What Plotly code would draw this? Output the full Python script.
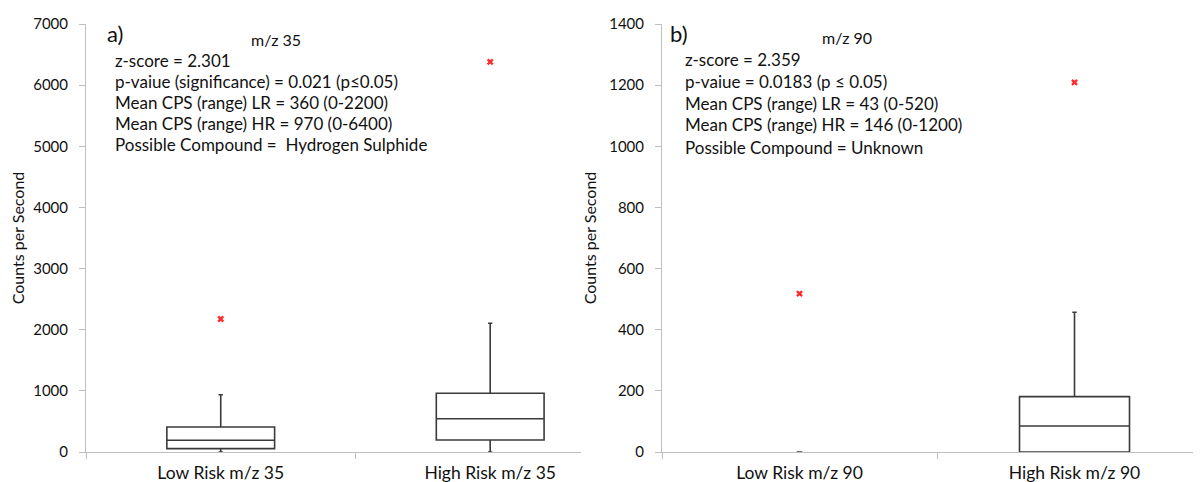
import plotly.graph_objects as go

# ---- data ----
categories_a = ["Low Risk m/z 35", "High Risk m/z 35"]
q1_a = [55, 196]
median_a = [191, 545]
q3_a = [410, 960]
lowerfence_a = [0, 0]
upperfence_a = [937, 2105]
outliers_a = [2175, 6380]

categories_b = ["Low Risk m/z 90", "High Risk m/z 90"]
q1_b = [0, 0]
median_b = [0, 85]
q3_b = [0, 181]
lowerfence_b = [0, 0]
upperfence_b = [0, 457]
outliers_b = [518, 1209]

text_a = ["z-score = 2.301",
          "p-vaiue (significance) = 0.021 (p≤0.05)",
          "Mean CPS (range) LR = 360 (0-2200)",
          "Mean CPS (range) HR = 970 (0-6400)",
          "Possible Compound =  Hydrogen Sulphide"]
text_b = ["z-score = 2.359",
          "p-vaiue = 0.0183 (p ≤ 0.05)",
          "Mean CPS (range) LR = 43 (0-520)",
          "Mean CPS (range) HR = 146 (0-1200)",
          "Possible Compound = Unknown"]

# page body has an 8px margin; size the figure to fit the window
OFF = 8
W, H = 1201 - OFF, 482 - OFF
FONT = "Lato"
BOX_LINE = "#3a3a3a"
AXIS = "#bfbfbf"
RED = "#ff2a2a"
TXT = "#111111"

fig = go.Figure()

def add_box(cat, q1, med, q3, lo, hi, xa, ya, width):
    fig.add_trace(go.Box(
        x=[cat], q1=[q1], median=[med], q3=[q3],
        lowerfence=[lo], upperfence=[hi],
        xaxis=xa, yaxis=ya, width=width, whiskerwidth=0.04,
        fillcolor="white", line=dict(color=BOX_LINE, width=1.6),
        boxpoints=False, showlegend=False, hoverinfo="skip"))

for i, c in enumerate(categories_a):
    add_box(c, q1_a[i], median_a[i], q3_a[i], lowerfence_a[i], upperfence_a[i], "x", "y", 0.4)
for i, c in enumerate(categories_b):
    w = 0.4 if q3_b[i] > q1_b[i] else 0.02
    add_box(c, q1_b[i], median_b[i], q3_b[i], lowerfence_b[i], upperfence_b[i], "x2", "y2", w)

fig.add_trace(go.Scatter(x=categories_a, y=outliers_a, mode="markers", xaxis="x", yaxis="y",
                         marker=dict(symbol="x", size=6, color=RED), showlegend=False))
fig.add_trace(go.Scatter(x=categories_b, y=outliers_b, mode="markers", xaxis="x2", yaxis="y2",
                         marker=dict(symbol="x", size=6, color=RED), showlegend=False))

def px_x(p):
    return (p - OFF) / W

def px_y(p):
    return 1 - (p - OFF) / H

ydom = [px_y(452), px_y(24)]
xaxis_common = dict(type="category", tickson="boundaries", ticks="outside", ticklen=6,
                    tickcolor=AXIS, showline=True, linecolor=AXIS, linewidth=1,
                    showgrid=False, zeroline=False, automargin=False, ticklabelstandoff=5,
                    tickfont=dict(family=FONT, size=17.5, color=TXT))
yaxis_common = dict(ticks="outside", ticklen=6, tickcolor=AXIS, showline=True, linecolor=AXIS,
                    linewidth=1, showgrid=False, zeroline=False, automargin=False,
                    ticklabelstandoff=8,
                    tickfont=dict(family=FONT, size=15, color=TXT))

fig.update_layout(
    width=W, height=H,
    margin=dict(l=0, r=0, t=0, b=0),
    paper_bgcolor="white", plot_bgcolor="white",
    boxmode="overlay",
    xaxis=dict(domain=[px_x(86), px_x(581)], range=[-0.5, 1.337], anchor="y",
               categoryorder="array", categoryarray=categories_a, **xaxis_common),
    yaxis=dict(domain=ydom, range=[0, 7000], dtick=1000, anchor="x",
               title=dict(text="Counts per Second", font=dict(family=FONT, size=16, color=TXT), standoff=12),
               **yaxis_common),
    xaxis2=dict(domain=[px_x(662), 1.0], range=[-0.5, 1.46], anchor="y2",
                categoryorder="array", categoryarray=categories_b, **xaxis_common),
    yaxis2=dict(domain=ydom, range=[0, 1400], dtick=200, anchor="x2",
                title=dict(text="Counts per Second", font=dict(family=FONT, size=16, color=TXT), standoff=8),
                **yaxis_common),
)

ann = []
def label(x, y, text, size, anchor="left"):
    ann.append(dict(x=px_x(x), y=px_y(y), xref="paper", yref="paper", text=text,
                    showarrow=False, xanchor=anchor, yanchor="middle",
                    font=dict(family=FONT, size=size, color=TXT)))

label(105, 33, "a)", 22)
label(249, 40, "m/z 35", 16)
for i, t in enumerate(text_a):
    label(113, 60 + i * 21, t, 17)

label(668, 33, "b)", 22)
label(820, 37, "m/z 90", 16)
for i, t in enumerate(text_b):
    label(683, 59 + i * 22, t, 17)

fig.update_layout(annotations=ann)
fig.write_html("out.html")
